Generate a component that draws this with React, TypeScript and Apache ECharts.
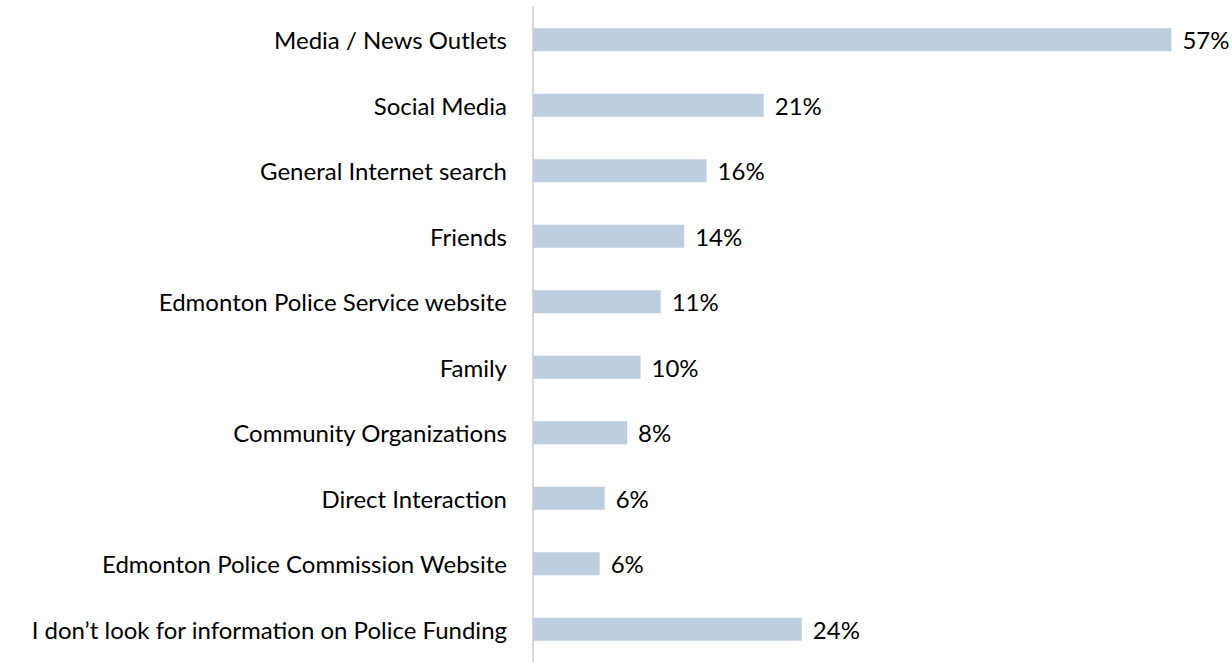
import React, { useEffect, useRef } from "react";
import * as echarts from "echarts";

const categories = [
  "Media / News Outlets",
  "Social Media",
  "General Internet search",
  "Friends",
  "Edmonton Police Service website",
  "Family",
  "Community Organizations",
  "Direct Interaction",
  "Edmonton Police Commission Website",
  "I don\u2019t look for information on Police Funding",
];
// bar lengths (percent)
const values = [57.0, 20.6, 15.5, 13.5, 11.4, 9.6, 8.4, 6.4, 5.95, 24.0];
// printed data labels
const valueLabels = ["57%", "21%", "16%", "14%", "11%", "10%", "8%", "6%", "6%", "24%"];

export default function App() {
  const ref = useRef<HTMLDivElement>(null);
  useEffect(() => {
    const chart = echarts.init(ref.current!, null, { renderer: "svg" });
    chart.setOption({
      animation: false,
      grid: { left: 533, right: 27, top: 7, bottom: -2 },
      xAxis: {
        type: "value",
        min: 0,
        max: 60,
        show: false,
      },
      yAxis: {
        type: "category",
        data: categories,
        inverse: true,
        axisLine: { show: true, lineStyle: { color: "#d9d9d9", width: 2 } },
        axisTick: { show: false },
        axisLabel: {
          color: "#000",
          fontSize: 24,
          fontFamily: "Lato",
          margin: 26,
        },
      },
      series: [
        {
          type: "bar",
          data: values,
          barWidth: 23,
          itemStyle: { color: "#bccee0" },
          label: {
            show: true,
            position: "right",
            distance: 11,
            formatter: (p: any) => valueLabels[p.dataIndex],
            color: "#000",
            fontSize: 24,
            fontFamily: "Lato",
          },
        },
      ],
    });
    return () => chart.dispose();
  }, []);
  return (
    <div
      ref={ref}
      style={{ position: "fixed", left: 0, top: 0, width: 1232, height: 662, background: "#fff" }}
    />
  );
}
